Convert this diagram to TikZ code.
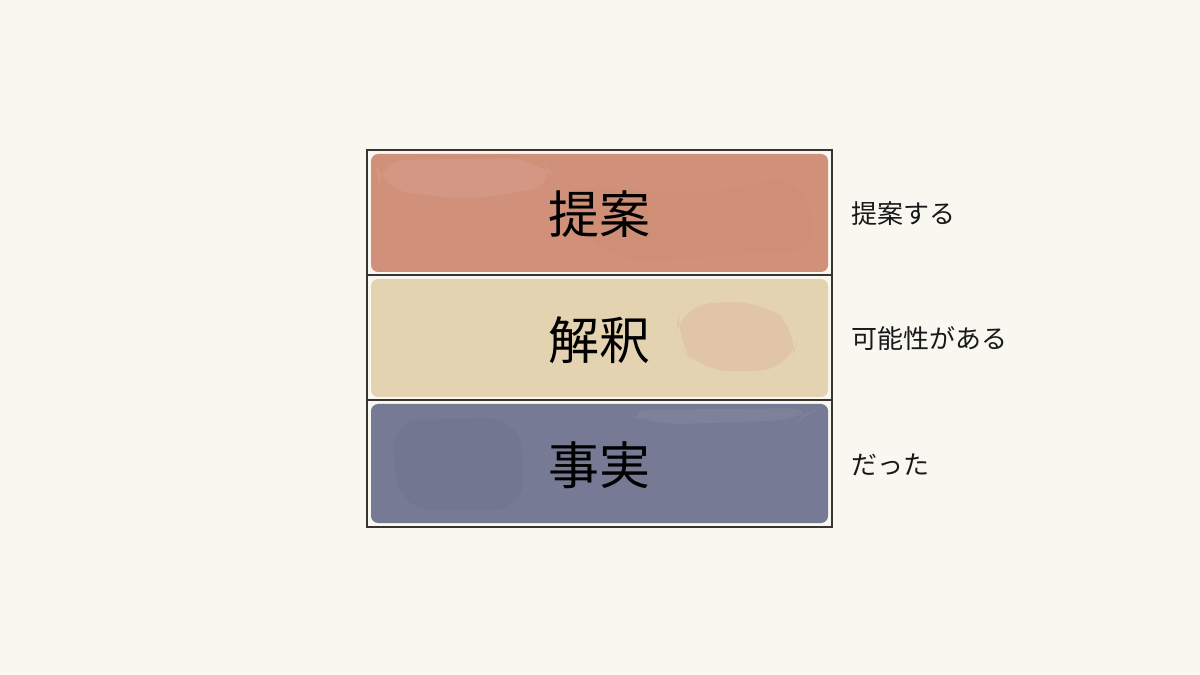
\documentclass[tikz,border=0pt]{standalone}
\usepackage{fontspec}
\newfontfamily\cjk{Noto Sans CJK JP}
\definecolor{bg}{HTML}{F8F7F0}
\definecolor{topc}{HTML}{D0907A}
\definecolor{midc}{HTML}{E4D3B0}
\definecolor{botc}{HTML}{767A94}
\definecolor{edge}{HTML}{3A3330}
\tikzset{
  px/.style={x=0.02cm,y=-0.02cm},
  band/.style={rounded corners=4pt},
  big/.style={font=\cjk\fontsize{29}{32}\selectfont, text=black, inner sep=0pt},
  side/.style={font=\cjk\fontsize{14.8}{16}\selectfont, text=black!90, anchor=west, inner sep=0pt},
  frame/.style={draw=edge, line width=0.9pt},
  patch/.style={rounded corners=18pt}
}
\begin{document}
\begin{tikzpicture}[px]
\fill[bg] (0,0) rectangle (1200,675);
\useasboundingbox (0,0) rectangle (1200,675);
% bands
\fill[topc, band] (371,154) rectangle (828,272);
\fill[midc, band] (371,279) rectangle (828,397);
\fill[botc, band] (371,404) rectangle (828,523);
% watercolor patches
\fill[topc!80!brown, opacity=0.22, patch] (560,185) -- (700,195) -- (800,175) -- (820,250) -- (620,262) -- (575,230) -- cycle;
\fill[topc!60!white, opacity=0.18, patch] (375,160) -- (540,158) -- (560,185) -- (470,200) -- (380,190) -- cycle;
\fill[topc!75!white, opacity=0.35, patch] (680,305) -- (760,300) -- (800,330) -- (790,370) -- (700,372) -- (675,340) -- cycle;
\fill[botc!80!black, opacity=0.15, patch] (390,420) -- (520,418) -- (525,510) -- (400,510) -- cycle;
\fill[botc!70!white, opacity=0.18, patch] (620,410) -- (820,408) -- (800,420) -- (650,425) -- cycle;
% frame
\draw[frame] (367,150) rectangle (832,527);
\draw[frame] (367,275) -- (832,275);
\draw[frame] (367,400) -- (832,400);
% labels
\node[big] (t1) at (599,214) {提案};
\node[big] (t2) at (599,340) {解釈};
\node[big] (t3) at (599,465) {事実};
\node[side] (s1) at (851,214) {提案する};
\node[side] (s2) at (851,339) {可能性がある};
\node[side] (s3) at (851,465) {だった};
\end{tikzpicture}
\end{document}
